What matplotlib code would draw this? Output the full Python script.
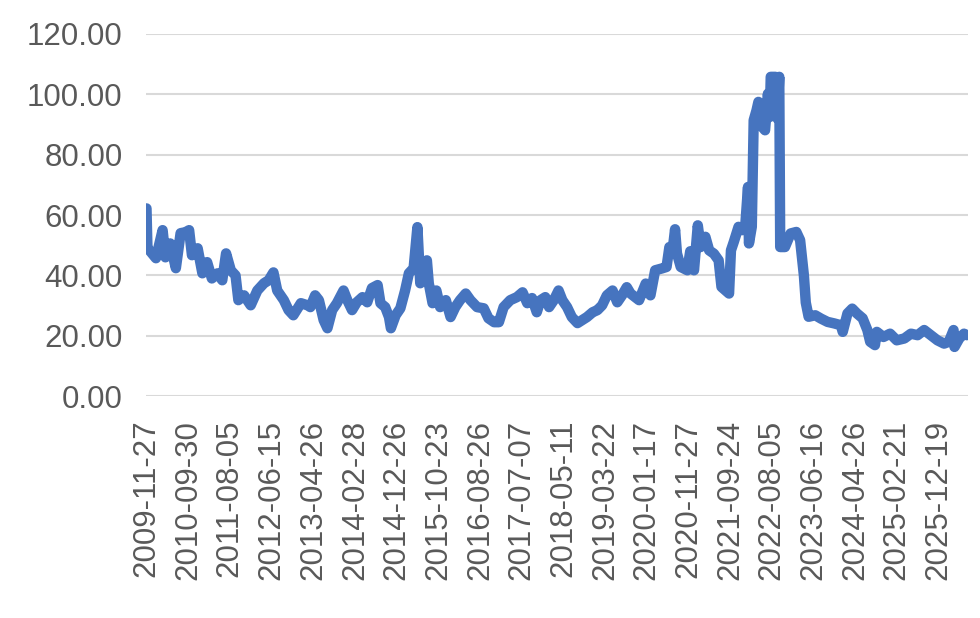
import numpy as np
import matplotlib.pyplot as plt

# week index (weekly closes from 2009-11-27) and value
weeks = [0, 1, 4, 10, 17, 20, 25, 31, 36, 41, 45, 48, 54, 59, 64, 69, 75, 80, 84, 89,
         94, 97, 103, 110, 117, 124, 129, 134, 138, 145, 150, 155, 163, 170, 173, 178, 182, 187, 191, 196,
         201, 208, 212, 217, 222, 228, 233, 238, 244, 247, 252, 256, 258, 263, 268, 273, 277, 282, 284, 286,
         289, 292, 296, 298, 302, 306, 310, 316, 321, 326, 331, 337, 342, 349, 356, 361, 367, 372, 377, 384,
         391, 397, 402, 407, 412, 416, 421, 425, 430, 435, 439, 444, 449, 455, 460, 465, 471, 476, 481, 486,
         492, 497, 502, 507, 511, 520, 527, 532, 537, 544, 549, 552, 555, 558, 560, 564, 571, 574, 578, 582,
         585, 590, 594, 599, 604, 607, 611, 615, 617, 620, 625, 629, 632, 635, 636, 639, 641, 644, 646, 650,
         653, 656, 658, 659, 664, 666, 668, 669, 674, 680, 686, 690, 694, 696, 699, 706, 712, 719, 726, 733,
         735, 740, 745, 750, 756, 761, 764, 769, 771, 778, 785, 792, 800, 807, 814, 821, 828, 835, 842, 847,
         852, 853, 858, 863, 866]
values = [62.2, 49.0, 48.0, 45.7, 55.0, 46.0, 50.6, 42.4, 54.0, 54.3, 55.0, 46.7, 49.0, 40.7, 44.4, 39.0, 40.7, 38.4, 47.3, 41.7,
          40.0, 31.8, 33.4, 30.1, 35.0, 37.4, 38.4, 41.0, 35.0, 31.8, 28.5, 26.8, 30.8, 30.1, 29.5, 33.4, 31.8, 25.2, 22.5, 28.5,
          30.8, 35.0, 31.8, 28.5, 31.1, 32.8, 31.1, 35.8, 36.8, 30.8, 29.5, 26.2, 22.5, 26.8, 29.1, 35.0, 40.7, 42.4, 49.3, 56.0,
          37.4, 42.7, 45.0, 37.4, 30.8, 35.0, 29.5, 31.8, 26.2, 29.5, 31.8, 34.0, 31.8, 29.5, 29.1, 25.8, 24.5, 24.5, 29.5, 31.8,
          32.8, 34.4, 30.8, 32.5, 27.8, 31.8, 32.8, 29.5, 31.8, 35.0, 31.8, 29.5, 26.2, 24.2, 25.2, 26.2, 27.8, 28.5, 30.1, 33.4,
          35.0, 31.1, 33.4, 36.1, 34.0, 31.8, 37.3, 33.4, 41.7, 42.3, 42.8, 49.4, 47.2, 55.3, 47.3, 42.8, 41.7, 48.0, 41.7, 56.6,
          49.4, 52.8, 48.3, 47.2, 45.0, 36.2, 35.1, 34.0, 48.3, 51.1, 56.1, 55.0, 56.0, 69.3, 50.6, 56.1, 91.4, 94.7, 97.5, 89.2,
          88.1, 100.2, 92.5, 105.8, 105.8, 92.0, 105.8, 49.4, 49.4, 53.9, 54.4, 51.7, 40.0, 31.0, 26.3, 26.8, 25.7, 24.6, 24.1, 23.5,
          21.3, 27.4, 29.0, 27.4, 25.8, 21.9, 18.0, 16.9, 21.3, 19.6, 20.7, 18.5, 19.1, 20.7, 20.2, 21.9, 20.2, 18.5, 17.4, 18.0,
          21.9, 16.3, 19.1, 20.7, 20.2]

tick_labels = ["2009-11-27", "2010-09-30", "2011-08-05", "2012-06-15", "2013-04-26",
               "2014-02-28", "2014-12-26", "2015-10-23", "2016-08-26", "2017-07-07",
               "2018-05-11", "2019-03-22", "2020-01-17", "2020-11-27", "2021-09-24",
               "2022-08-05", "2023-06-16", "2024-04-26", "2025-02-21", "2025-12-19"]
tick_step = 44

plt.rcParams['font.family'] = ['Liberation Sans', 'DejaVu Sans']

fig = plt.figure(figsize=(9.8, 6.18), dpi=100)
ax = fig.add_axes([0.149, 0.359, 0.839, 0.586])

ax.plot(weeks, values, color="#4674bf", linewidth=7.5,
        solid_capstyle="round", solid_joinstyle="round", zorder=3)

ax.set_ylim(0, 120)
ax.set_yticks(np.arange(0, 121, 20))
ax.set_yticklabels([f"{v:.2f}" for v in np.arange(0, 121, 20)])
ax.set_xlim(-0.5, 867.5)
ax.set_xticks([i * tick_step for i in range(len(tick_labels))])
ax.set_xticklabels(tick_labels, rotation=90)

ax.grid(axis="y", color="#d9d9d9", linewidth=1.5, zorder=0)
ax.set_axisbelow(True)
for s in ax.spines.values():
    s.set_visible(False)
ax.tick_params(axis="both", length=0, labelsize=22.5, colors="#595959")
ax.tick_params(axis="y", pad=17)
ax.tick_params(axis="x", pad=17)

fig.savefig("out.png", dpi=100)
